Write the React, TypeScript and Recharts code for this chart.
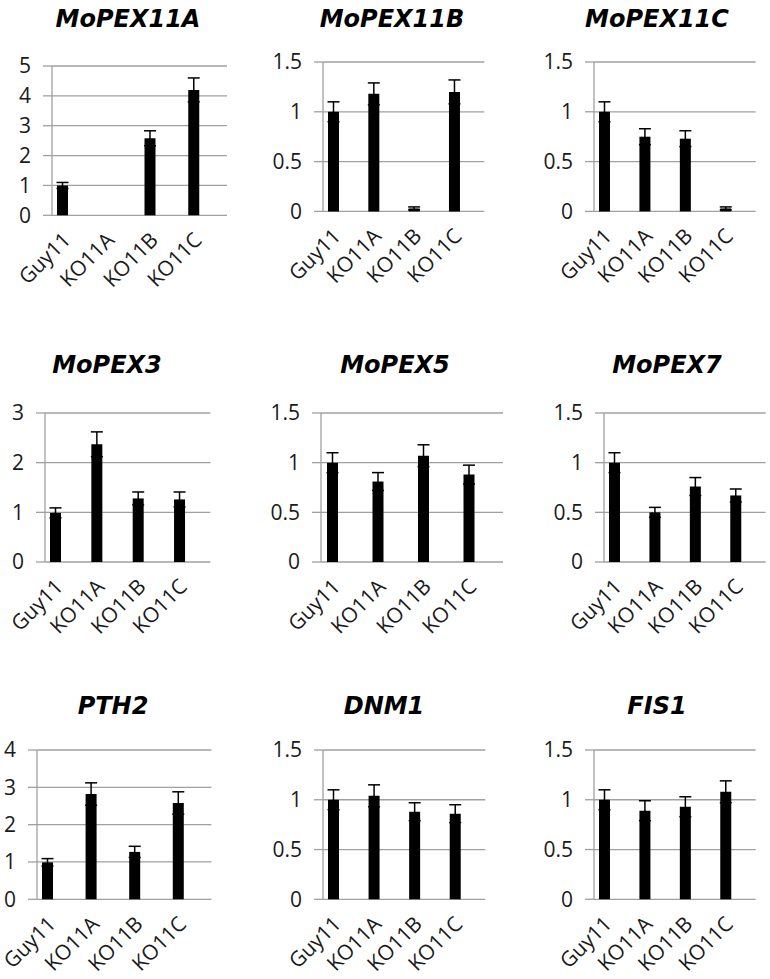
import { BarChart, Bar, XAxis, YAxis, CartesianGrid, ErrorBar } from "recharts";

const strains = ["Guy11", "KO11A", "KO11B", "KO11C"];

// relative expression, mean and error per strain
const pex11aMean = [1.0, null, 2.58, 4.2];
const pex11aErr = [0.1, null, 0.25, 0.4];
const pex11bMean = [1.0, 1.18, 0.03, 1.2];
const pex11bErr = [0.1, 0.11, 0.015, 0.12];
const pex11cMean = [1.0, 0.75, 0.73, 0.03];
const pex11cErr = [0.1, 0.08, 0.08, 0.015];
const pex3Mean = [0.99, 2.37, 1.28, 1.26];
const pex3Err = [0.1, 0.25, 0.13, 0.15];
const pex5Mean = [1.0, 0.81, 1.07, 0.88];
const pex5Err = [0.1, 0.09, 0.11, 0.095];
const pex7Mean = [1.0, 0.5, 0.76, 0.67];
const pex7Err = [0.1, 0.05, 0.09, 0.065];
const pth2Mean = [0.99, 2.82, 1.27, 2.58];
const pth2Err = [0.1, 0.3, 0.15, 0.3];
const dnm1Mean = [1.0, 1.04, 0.88, 0.86];
const dnm1Err = [0.1, 0.11, 0.09, 0.09];
const fis1Mean = [1.0, 0.89, 0.93, 1.08];
const fis1Err = [0.1, 0.1, 0.1, 0.11];

const ticks5 = [0, 1, 2, 3, 4, 5];
const ticks4 = [0, 1, 2, 3, 4];
const ticks3 = [0, 1, 2, 3];
const ticks15 = [0, 0.5, 1, 1.5];
const frameTicks = [0, 1, 2, 3, 4, 5, 6, 7, 8];

const GRAY = "#a0a0a0";
const AXIS_W = 60;

// each strain is followed by an empty slot, like the original sheet
function buildRows(mean: (number | null)[], err: (number | null)[]) {
  const rows: { slot: string; value: number | null; err: number | null }[] = [];
  strains.forEach((s, i) => {
    rows.push({ slot: s, value: mean[i], err: err[i] });
    rows.push({ slot: s + "_gap", value: null, err: null });
  });
  return rows;
}

const panels = [
  { title: "MoPEX11A", mean: pex11aMean, err: pex11aErr, ticks: ticks5, box: [52, 227, 65.7, 215], tx: 128, ty: 7 },
  { title: "MoPEX11B", mean: pex11bMean, err: pex11bErr, ticks: ticks15, box: [322.7, 484, 62.3, 211.7], tx: 392, ty: 7 },
  { title: "MoPEX11C", mean: pex11cMean, err: pex11cErr, ticks: ticks15, box: [594.3, 756, 62.3, 211.7], tx: 657, ty: 7 },
  { title: "MoPEX3", mean: pex3Mean, err: pex3Err, ticks: ticks3, box: [45.3, 210.7, 413.3, 562.3], tx: 107, ty: 353 },
  { title: "MoPEX5", mean: pex5Mean, err: pex5Err, ticks: ticks15, box: [320.7, 502.7, 413.3, 562.3], tx: 395, ty: 353 },
  { title: "MoPEX7", mean: pex7Mean, err: pex7Err, ticks: ticks15, box: [604.3, 766, 413.3, 562.3], tx: 667, ty: 353 },
  { title: "PTH2", mean: pth2Mean, err: pth2Err, ticks: ticks4, box: [37.3, 211.7, 750, 899.3], tx: 113, ty: 694 },
  { title: "DNM1", mean: dnm1Mean, err: dnm1Err, ticks: ticks15, box: [322.7, 485, 750, 899.3], tx: 384, ty: 694 },
  { title: "FIS1", mean: fis1Mean, err: fis1Err, ticks: ticks15, box: [594.3, 756, 750, 899.3], tx: 657, ty: 694 },
];

function StrainTick(props: any) {
  const { x, y, payload } = props;
  const label = String(payload.value);
  if (label.endsWith("_gap")) return <g />;
  const ax = x + 9;
  const ay = y + 18;
  return (
    <text
      x={ax}
      y={ay}
      transform={`rotate(-45 ${ax} ${ay})`}
      textAnchor="end"
      fontSize={21}
      fontFamily="Open Sans"
      fill="#1a1a1a"
    >
      {label}
    </text>
  );
}

function Panel({ p }: { p: (typeof panels)[number] }) {
  const [l, r, t, b] = p.box;
  const data = buildRows(p.mean, p.err);
  const top = 18;
  const w = AXIS_W + (r - l) + 4;
  const h = top + (b - t) + 90;
  const yMax = p.ticks[p.ticks.length - 1];
  return (
    <>
      <div
        style={{
          position: "absolute",
          left: p.tx - 100,
          top: p.ty,
          width: 200,
          textAlign: "center",
          fontFamily: "DejaVu Sans",
          fontWeight: "bold",
          fontStyle: "italic",
          fontSize: 24,
          lineHeight: "24px",
          color: "#000",
        }}
      >
        {p.title}
      </div>
      <div style={{ position: "absolute", left: l - AXIS_W, top: t - top }}>
        <BarChart
          width={w}
          height={h}
          data={data}
          margin={{ top: top, right: 4, left: 0, bottom: 0 }}
          barCategoryGap={0}
        >
          <CartesianGrid xAxisId="cat" vertical={false} stroke={GRAY} strokeWidth={1.3} />
          <XAxis
            xAxisId="frame"
            type="number"
            domain={[0, 8]}
            allowDataOverflow
            ticks={frameTicks}
            tick={false}
            height={0}
            tickSize={7}
            axisLine={{ stroke: GRAY, strokeWidth: 1.3 }}
            tickLine={{ stroke: GRAY, strokeWidth: 1.3 }}
          />
          <XAxis
            xAxisId="cat"
            dataKey="slot"
            interval={0}
            axisLine={false}
            tickLine={false}
            height={90}
            tick={<StrainTick />}
          />
          <YAxis
            width={AXIS_W}
            domain={[0, yMax]}
            ticks={p.ticks}
            interval={0}
            tickSize={9}
            tickMargin={12}
            axisLine={{ stroke: GRAY, strokeWidth: 1.3 }}
            tickLine={{ stroke: GRAY, strokeWidth: 1.3 }}
            tick={{ fontSize: 21, fontFamily: "Open Sans", fill: "#1a1a1a" }}
          />
          <Bar xAxisId="cat" dataKey="value" fill="#000" barSize={11} isAnimationActive={false}>
            <ErrorBar dataKey="err" direction="y" width={6} stroke="#000" strokeWidth={1.5} />
          </Bar>
        </BarChart>
      </div>
    </>
  );
}

export default function App() {
  return (
    <div
      style={{
        position: "absolute",
        left: 0,
        top: 0,
        width: 770,
        height: 979,
        background: "#fff",
        overflow: "hidden",
      }}
    >
      {panels.map((p) => (
        <Panel key={p.title} p={p} />
      ))}
    </div>
  );
}
